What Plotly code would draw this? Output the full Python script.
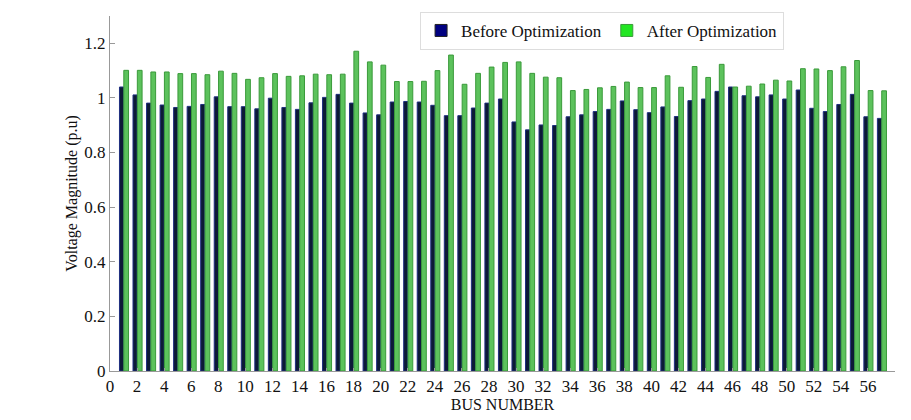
import plotly.graph_objects as go

buses = list(range(1, 58))
before = [1.040, 1.011, 0.981, 0.974, 0.965, 0.969, 0.976, 1.004, 0.968, 0.968,
          0.960, 0.999, 0.965, 0.958, 0.982, 1.002, 1.013, 0.981, 0.945, 0.938,
          0.985, 0.987, 0.985, 0.973, 0.935, 0.935, 0.963, 0.981, 0.996, 0.912,
          0.883, 0.901, 0.899, 0.931, 0.938, 0.950, 0.958, 0.989, 0.957, 0.946,
          0.967, 0.932, 0.990, 0.996, 1.024, 1.040, 1.008, 1.004, 1.011, 0.996,
          1.029, 0.962, 0.950, 0.976, 1.013, 0.931, 0.925]
after = [1.101, 1.101, 1.095, 1.095, 1.089, 1.089, 1.085, 1.098, 1.090, 1.068,
         1.074, 1.089, 1.079, 1.081, 1.087, 1.085, 1.087, 1.171, 1.132, 1.120,
         1.060, 1.060, 1.061, 1.100, 1.157, 1.050, 1.090, 1.113, 1.130, 1.132,
         1.090, 1.076, 1.074, 1.027, 1.031, 1.037, 1.042, 1.058, 1.038, 1.038,
         1.081, 1.039, 1.115, 1.075, 1.123, 1.040, 1.043, 1.051, 1.065, 1.062,
         1.107, 1.106, 1.100, 1.114, 1.137, 1.027, 1.026]
x_ticks = list(range(0, 57, 2))
y_ticks = [0, 0.2, 0.4, 0.6, 0.8, 1.0, 1.2]
y_tick_text = ["0", "0.2", "0.4", "0.6", "0.8", "1", "1.2"]

serif = "Liberation Serif"

fig = go.Figure()
fig.add_trace(go.Bar(x=buses, y=before, name="Before Optimization", showlegend=False,
                     offset=-0.30, width=0.31,
                     marker=dict(color="#0d1a36", line=dict(color="#1f2f80", width=1))))
fig.add_trace(go.Bar(x=buses, y=after, name="After Optimization", showlegend=False,
                     offset=0.02, width=0.35,
                     marker=dict(color="#5cc25c", line=dict(color="#3a9a3a", width=1))))
# legend entries
fig.add_trace(go.Bar(x=[None], y=[None], name="Before Optimization",
                     marker=dict(color="#000080", line=dict(color="#222", width=1))))
fig.add_trace(go.Bar(x=[None], y=[None], name="After Optimization",
                     marker=dict(color="#22e622", line=dict(color="#3a9a3a", width=1))))

fig.update_layout(
    width=911, height=420,
    margin=dict(l=110, r=16, t=14, b=41),
    paper_bgcolor="white", plot_bgcolor="white",
    barmode="overlay",
    font=dict(family=serif, size=17, color="#111"),
    legend=dict(orientation="h", x=0.395, y=0.958, xanchor="left", yanchor="middle",
                bgcolor="white", bordercolor="#dddddd", borderwidth=1,
                font=dict(family=serif, size=17), itemwidth=30,
                traceorder="normal", tracegroupgap=0),
    xaxis=dict(range=[0, 58], tickmode="array", tickvals=x_ticks,
               showgrid=False, zeroline=False, showline=True, linecolor="#999999",
               linewidth=1, ticks="inside", ticklen=3, tickcolor="#999999",
               tickfont=dict(family=serif, size=17),
               title=dict(text="BUS NUMBER", font=dict(family=serif, size=16), standoff=0)),
    yaxis=dict(range=[0, 1.3], tickmode="array", tickvals=y_ticks, ticktext=y_tick_text,
               showgrid=False, zeroline=False, showline=True, linecolor="#999999",
               linewidth=1, ticks="inside", ticklen=5, tickcolor="#999999",
               tickfont=dict(family=serif, size=17),
               title=dict(text="Voltage Magnitude (p.u)", font=dict(family=serif, size=16),
                          standoff=2)),
)

fig.write_html("out.html")
